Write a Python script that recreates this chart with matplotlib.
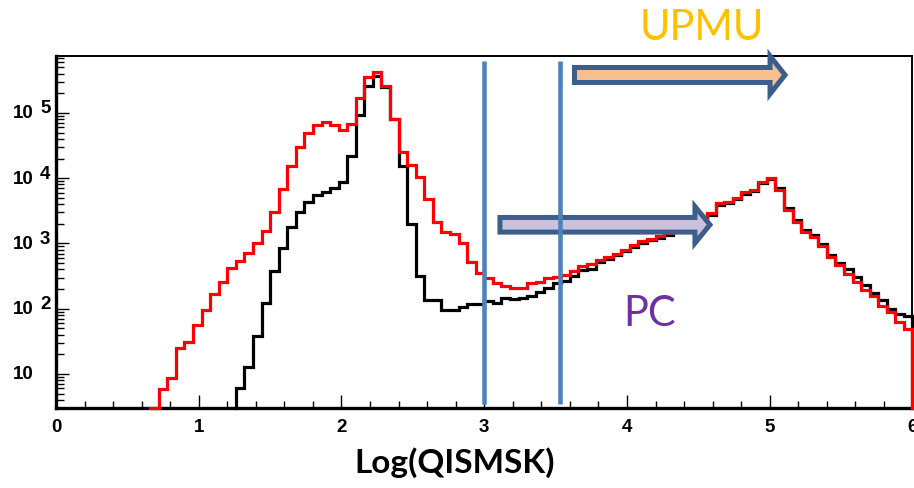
import numpy as np
import matplotlib
matplotlib.use("Agg")
import matplotlib.pyplot as plt
from matplotlib.patches import Polygon
from matplotlib.ticker import FixedLocator, NullFormatter
from matplotlib.transforms import offset_copy, blended_transform_factory

# Binning of log10(QISMSK)
x_lo, x_hi, n_bins = 0.0, 6.0, 100

# Entries per bin, all events (red)
counts_all = [
    0, 0, 0, 0, 0, 0, 0, 0, 0, 0,
    0, 1, 5.9, 8.5, 25, 31, 57, 97, 168, 254,
    420, 545, 720, 1010, 1570, 3000, 6840, 15200, 29800, 48800,
    65500, 73600, 66200, 54800, 67800, 170000, 352000, 430000, 256000, 82000,
    25500, 16000, 10600, 4810, 2160, 1520, 1400, 1020, 526, 353,
    293, 248, 222, 208, 208, 250, 252, 290, 308, 325,
    383, 455, 480, 555, 620, 700, 800, 940, 1080, 1180,
    1280, 1450, 1650, 1900, 2200, 2450, 2900, 4100, 4350, 5000,
    6100, 6600, 8850, 10100, 6700, 3300, 2100, 1520, 1250, 900,
    615, 470, 340, 260, 196, 155, 111, 90, 63, 48,
]

# Entries per bin after the selection (black)
counts_cut = [
    0, 0, 0, 0, 0, 0, 0, 0, 0, 0,
    0, 0, 0, 0, 0, 0, 0, 0, 0, 0,
    0, 6.0, 12.9, 37.8, 121, 380, 860, 1770, 3030, 4300,
    5500, 6220, 7170, 8850, 21700, 93200, 257000, 373000, 250000, 82000,
    15600, 1950, 320, 135, 135, 97, 97, 107, 116, 116,
    130, 120, 145, 142, 145, 159, 179, 206, 248, 269,
    321, 397, 406, 515, 585, 660, 760, 890, 1020, 1110,
    1200, 1360, 1550, 1790, 2070, 2300, 2750, 3900, 4100, 4750,
    5750, 6250, 8400, 9700, 7100, 3500, 2250, 1630, 1340, 970,
    660, 500, 406, 303, 231, 173, 138, 99, 83, 78,
]

x_ticks = [0, 1, 2, 3, 4, 5, 6]
decade_ticks = [1e1, 1e2, 1e3, 1e4, 1e5]
cut_lines = [3.0, 3.53]
y_floor, y_top = 3.0, 7.4e5

edges = np.linspace(x_lo, x_hi, n_bins + 1)


def step_outline(counts, floor):
    """ROOT-style histogram outline; empty bins outside the filled range are skipped."""
    c = np.asarray(counts, float)
    nz = np.nonzero(c)[0]
    first, last = nz[0], nz[-1]
    vals = np.clip(c[first:last + 1], floor, None)
    xs = np.repeat(edges[first:last + 2], 2)
    ys = np.concatenate([[floor], np.repeat(vals, 2), [floor]])
    return xs, ys


fig = plt.figure(figsize=(9.14, 4.89), dpi=100)
fig.patch.set_facecolor("white")
ax = fig.add_axes([56 / 914, 80 / 489, 856.5 / 914, 351.8 / 489])
ax.set_yscale("log")
ax.set_xlim(x_lo, x_hi)
ax.set_ylim(y_floor, y_top)

for counts, col in [(counts_cut, "black"), (counts_all, "#ff0000")]:
    xs, ys = step_outline(counts, y_floor)
    ax.plot(xs, ys, color=col, lw=2.3, solid_joinstyle="miter", zorder=3,
            clip_on=False)

# selection thresholds
for xc in cut_lines:
    ax.axvline(xc, ymin=0.011, ymax=0.986, color="#4f81bd", lw=3.3,
               solid_capstyle="butt", zorder=5)

# block arrows: x in data units, y in axes fraction
arrow_tf = blended_transform_factory(ax.transData, ax.transAxes)


def block_arrow(x0, x_head, x_tip, y_mid, half_body, half_head, face):
    verts = [(x0, y_mid - half_body), (x_head, y_mid - half_body),
             (x_head, y_mid - half_head), (x_tip, y_mid),
             (x_head, y_mid + half_head), (x_head, y_mid + half_body),
             (x0, y_mid + half_body)]
    ax.add_patch(Polygon(verts, closed=True, transform=arrow_tf,
                         facecolor=face, edgecolor="#3b5e8c", lw=3.6,
                         joinstyle="miter", clip_on=False, zorder=4))


block_arrow(3.632, 5.002, 5.107, 0.9466, 0.0213, 0.054, "#f9c08f")
block_arrow(3.110, 4.476, 4.581, 0.5208, 0.0208, 0.052, "#ccc1da")

ax.text(4.525, 1.049, "UPMU", transform=arrow_tf, ha="center", va="baseline",
        fontsize=30, family="Lato", color="#ffc000")
ax.text(4.161, 0.236, "PC", transform=arrow_tf, ha="center", va="baseline",
        fontsize=30, family="Lato", color="#7030a0")

# axes styling
for side in ["left", "bottom"]:
    ax.spines[side].set_linewidth(2.4)
for side in ["top", "right"]:
    ax.spines[side].set_linewidth(1.4)

tick_font = dict(family="Liberation Sans", weight="bold", size=13.5)
ax.xaxis.set_major_locator(FixedLocator(x_ticks))
ax.xaxis.set_minor_locator(FixedLocator(np.arange(0, 6.01, 0.2)))
ax.set_xticklabels([str(t) for t in x_ticks], fontdict=tick_font)
ax.tick_params(axis="x", which="major", direction="in", length=9.5, width=1.0,
               pad=7, top=False)
ax.tick_params(axis="x", which="minor", direction="in", length=5, width=1.0,
               top=False)

ax.yaxis.set_major_locator(FixedLocator(decade_ticks))
minor_y = [m * 10 ** e for e in range(0, 6) for m in range(2, 10)
           if y_floor <= m * 10 ** e <= y_top]
ax.yaxis.set_minor_locator(FixedLocator(minor_y))
ax.yaxis.set_major_formatter(NullFormatter())
ax.yaxis.set_minor_formatter(NullFormatter())
ax.tick_params(axis="y", which="major", direction="in", length=9.5, width=1.0,
               right=False)
ax.tick_params(axis="y", which="minor", direction="in", length=5.5, width=1.0,
               right=False)

# decade labels written as "10" with a raised exponent
ytf = ax.get_yaxis_transform()
base_tf = offset_copy(ytf, fig=fig, x=-43.5, y=0, units="dots")
exp_tf = offset_copy(ytf, fig=fig, x=-16, y=5, units="dots")
for v in decade_ticks:
    ax.text(0, v, "10", transform=base_tf, ha="left", va="center", **tick_font)
    e = int(round(np.log10(v)))
    if e > 1:
        ax.text(0, v, str(e), transform=exp_tf, ha="left", va="center", **tick_font)

ax.set_xlabel("Log(QISMSK)", fontsize=24, family="Lato", weight="bold")
ax.xaxis.label.set_va("center")
ax.xaxis.set_label_coords(0.465, -0.153)

fig.savefig("out.png", dpi=100, facecolor="white")
